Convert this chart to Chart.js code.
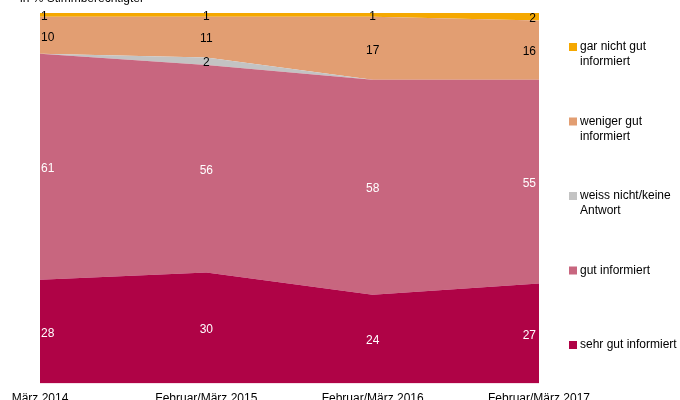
<!DOCTYPE html>
<html lang="de">
<head>
    <meta charset="UTF-8">
    <title>Informiertheit</title>
    <script src="https://cdn.jsdelivr.net/npm/chart.js"></script>
    <style>
        html, body { margin: 0; padding: 0; background: #fff; overflow: hidden; width: 680px; height: 400px; }
        .wrap { position: absolute; left: 0; top: -10px; width: 680px; height: 428px; }
    </style>
</head>
<body>
    <div class="wrap">
        <canvas id="chart"></canvas>
    </div>

    <script>
        // Data (in % Stimmberechtigter)
        const periods = ['März 2014', 'Februar/März 2015', 'Februar/März 2016', 'Februar/März 2017'];
        const sehrGut = [28, 30, 24, 27];
        const gut = [61, 56, 58, 55];
        const weissNicht = [0, 2, 0, 0];
        const wenigerGut = [10, 11, 17, 16];
        const garNichtGut = [1, 1, 1, 2];

        const seriesNames = ['sehr gut informiert', 'gut informiert', 'weiss nicht/keine Antwort', 'weniger gut informiert', 'gar nicht gut informiert'];
        const legendLines = [['sehr gut informiert'], ['gut informiert'], ['weiss nicht/keine', 'Antwort'], ['weniger gut', 'informiert'], ['gar nicht gut', 'informiert']];
        const colors = ['#AF0346', '#C8667F', '#C3C3C3', '#E29E72', '#F5A800'];
        const labelColors = ['#fff', '#fff', '#000', '#000', '#000'];
        const FONT = '"Liberation Sans", Arial, sans-serif';

        const allSeries = [sehrGut, gut, weissNicht, wenigerGut, garNichtGut];

        // value labels in the middle of each band
        const bandLabels = {
            id: 'bandLabels',
            afterDatasetsDraw(chart) {
                const ctx = chart.ctx;
                const x = chart.scales.x, y = chart.scales.y;
                ctx.save();
                ctx.font = '12px ' + FONT;
                ctx.textBaseline = 'middle';
                periods.forEach((p, i) => {
                    let base = 0;
                    allSeries.forEach((s, k) => {
                        const v = s[i];
                        if (v > 0) {
                            const mid = y.getPixelForValue(base + v / 2);
                            let px = x.getPixelForValue(i);
                            if (i === 0) { ctx.textAlign = 'left'; px += 1; }
                            else if (i === periods.length - 1) { ctx.textAlign = 'right'; px -= 3; }
                            else { ctx.textAlign = 'center'; }
                            ctx.fillStyle = labelColors[k];
                            ctx.fillText(String(v), px, mid + 2);
                        }
                        base += v;
                    });
                });
                ctx.restore();
            }
        };

        // legend on the right + subtitle
        const sideLegend = {
            id: 'sideLegend',
            afterDraw(chart) {
                const ctx = chart.ctx;
                ctx.save();
                ctx.font = '12px ' + FONT;
                ctx.textBaseline = 'middle';
                ctx.textAlign = 'left';
                ctx.fillStyle = '#000';
                ctx.fillText('in % Stimmberechtigter', 20, 9);
                const startY = 57, step = 74.5;
                for (let k = seriesNames.length - 1; k >= 0; k--) {
                    const row = seriesNames.length - 1 - k;
                    const cy = startY + row * step;
                    ctx.fillStyle = colors[k];
                    ctx.fillRect(569, cy - 4, 8, 8);
                    ctx.fillStyle = '#000';
                    legendLines[k].forEach((line, j) => {
                        ctx.fillText(line, 580, cy + j * 15);
                    });
                }
                ctx.restore();
            }
        };

        const datasets = allSeries.map((s, k) => ({
            label: seriesNames[k],
            data: s,
            backgroundColor: colors[k],
            borderColor: colors[k],
            borderWidth: 0,
            pointRadius: 0,
            fill: k === 0 ? 'origin' : '-1',
            tension: 0
        }));

        new Chart(document.getElementById('chart'), {
            type: 'line',
            data: { labels: periods, datasets: datasets },
            options: {
                responsive: true,
                maintainAspectRatio: false,
                animation: false,
                layout: { padding: { left: 40, right: 141, top: 23, bottom: 4 } },
                plugins: {
                    legend: { display: false },
                    tooltip: { enabled: false }
                },
                scales: {
                    x: {
                        offset: false,
                        grid: { display: false, drawTicks: false },
                        border: { display: false },
                        ticks: {
                            color: '#000',
                            font: { family: FONT, size: 12 },
                            padding: 8,
                            autoSkip: false,
                            maxRotation: 0
                        }
                    },
                    y: {
                        stacked: true,
                        display: false,
                        min: 0,
                        max: 100
                    }
                }
            },
            plugins: [bandLabels, sideLegend]
        });
    </script>
</body>
</html>
